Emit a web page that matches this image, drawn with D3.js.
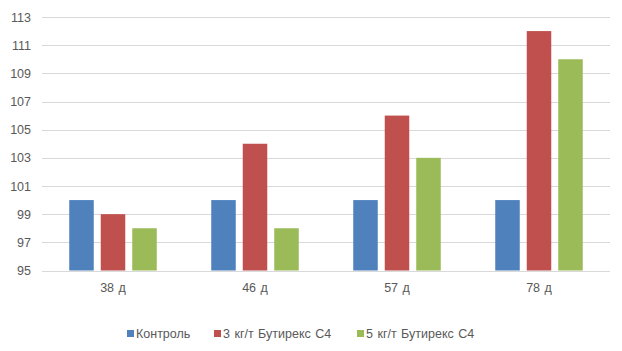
<!DOCTYPE html>
<html>
<head>
<meta charset="utf-8">
<script src="https://cdn.jsdelivr.net/npm/d3@7"></script>
<style>
  body { margin: 0; background: #fff; }
  text { font-family: "Liberation Sans", Arial, sans-serif; fill: #595959; }
</style>
</head>
<body>
<div class="chart"></div>
<script>
const categories = ['38 д', '46 д', '57 д', '78 д'];
const seriesNames = ['Контроль', '3 кг/т Бутирекс С4', '5 кг/т Бутирекс С4'];
const kontrol = [100, 100, 100, 100];
const but3 = [99, 104, 106, 112];
const but5 = [98, 98, 103, 110];
const yTicks = [95, 97, 99, 101, 103, 105, 107, 109, 111, 113];
const colors = ['#4F81BD', '#C0504D', '#9BBB59'];

const width = 622, height = 351;
const margin = {top: 17, right: 12, bottom: 81, left: 42};
const series = [kontrol, but3, but5];

const svg = d3.select('.chart').append('svg')
    .attr('width', width)
    .attr('height', height);

const x0 = d3.scaleBand()
    .domain(categories)
    .range([margin.left, width - margin.right])
    .padding(0);

const x1 = d3.scaleBand()
    .domain(d3.range(series.length))
    .range([0, x0.bandwidth()])
    .paddingInner(0.222)
    .paddingOuter(0.865);

const y = d3.scaleLinear()
    .domain([95, 113])
    .range([height - margin.bottom + 0.5, margin.top]);

// grid
svg.append('g')
    .selectAll('line')
    .data(yTicks)
    .enter().append('line')
    .attr('x1', margin.left)
    .attr('x2', width - margin.right)
    .attr('y1', d => Math.round(y(d)) + 0.5)
    .attr('y2', d => Math.round(y(d)) + 0.5)
    .style('stroke', '#d9d9d9')
    .style('stroke-width', 1);

// y labels
svg.append('g')
    .selectAll('text')
    .data(yTicks)
    .enter().append('text')
    .attr('x', 31)
    .attr('y', d => y(d) + 4.5)
    .attr('text-anchor', 'end')
    .style('font-size', '12.5px')
    .text(d => d);

// bars
const groups = svg.append('g')
    .selectAll('g')
    .data(categories)
    .enter().append('g')
    .attr('transform', d => 'translate(' + x0(d) + ',0)');

groups.selectAll('rect')
    .data((c, ci) => series.map((s, si) => ({si, v: s[ci]})))
    .enter().append('rect')
    .attr('x', d => x1(d.si))
    .attr('width', x1.bandwidth())
    .attr('y', d => y(d.v))
    .attr('height', d => y(95) - y(d.v))
    .style('fill', d => colors[d.si]);

// x labels
svg.append('g')
    .selectAll('text')
    .data(categories)
    .enter().append('text')
    .attr('x', d => x0(d) + x0.bandwidth() / 2)
    .attr('y', 292)
    .attr('text-anchor', 'middle')
    .style('font-size', '12.5px')
    .style('word-spacing', '1px')
    .text(d => d);

// legend
const legendX = [127, 214, 357];
const legend = svg.append('g')
    .selectAll('g')
    .data(seriesNames)
    .enter().append('g')
    .attr('transform', (d, i) => 'translate(' + legendX[i] + ',330)');

legend.append('rect')
    .attr('width', 7)
    .attr('height', 7)
    .style('fill', (d, i) => colors[i]);

legend.append('text')
    .attr('x', 9)
    .attr('y', 7.5)
    .style('font-size', '12.5px')
    .style('word-spacing', '1px')
    .text(d => d);
</script>
</body>
</html>
